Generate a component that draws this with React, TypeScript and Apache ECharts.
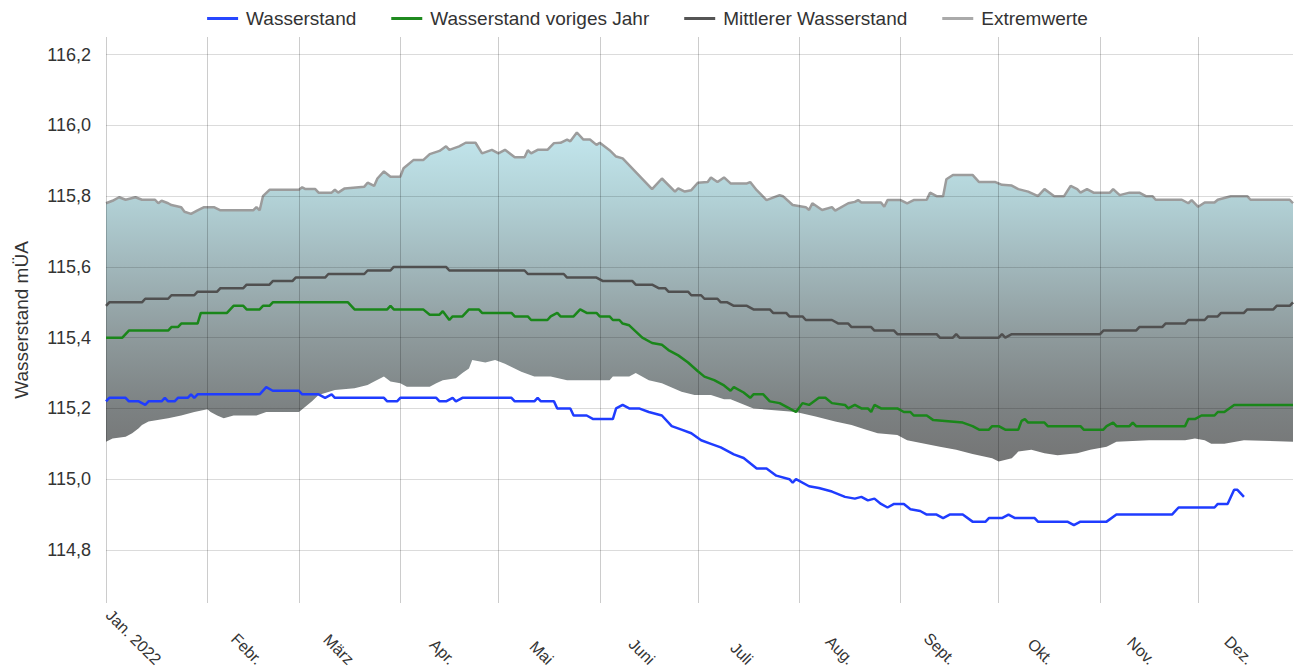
import React, { useEffect, useRef } from "react";
import * as echarts from "echarts";

// Tag im Jahr 2022 (0 = 1. Jan.)
const monatsLabels = ["Jan. 2022", "Febr.", "März", "Apr.", "Mai", "Juni", "Juli", "Aug.", "Sept.", "Okt.", "Nov.", "Dez."];
const monatsAnfang = [0, 31, 59, 90, 120, 151, 181, 212, 243, 273, 304, 334];
const yTicks = [114.8, 115.0, 115.2, 115.4, 115.6, 115.8, 116.0, 116.2];
const legendNames = ["Wasserstand", "Wasserstand voriges Jahr", "Mittlerer Wasserstand", "Extremwerte"];

// [Tag, Wert in m ü. A.]
const wasserstand: [number, number][] = [
  [0, 115.22], [1, 115.23], [6, 115.23], [7, 115.22], [10, 115.22], [12, 115.21], [13, 115.22], [17, 115.22],
  [18, 115.23], [19, 115.22], [21, 115.22], [22, 115.23], [25, 115.23], [26, 115.24], [27, 115.23], [28, 115.24],
  [47, 115.24], [49, 115.26], [51, 115.25], [59, 115.25], [60, 115.24], [65, 115.24], [67, 115.23], [69, 115.24],
  [70, 115.23], [85, 115.23], [86, 115.22], [89, 115.22], [90, 115.23], [101, 115.23], [102, 115.22], [104, 115.22],
  [106, 115.23], [107, 115.22], [109, 115.23], [124, 115.23], [125, 115.22], [131, 115.22], [132, 115.23], [133, 115.22],
  [137, 115.22], [138, 115.2], [142, 115.2], [143, 115.18], [147, 115.18], [149, 115.17], [155, 115.17], [156, 115.2],
  [158, 115.21], [160, 115.2], [163, 115.2], [166, 115.19], [170, 115.18], [173, 115.15], [176, 115.14], [179, 115.13],
  [182, 115.11], [185, 115.1], [188, 115.09], [192, 115.07], [195, 115.06], [199, 115.03], [202, 115.03], [205, 115.01],
  [209, 115.0], [210, 114.99], [211, 115.0], [215, 114.98], [218, 114.975], [222, 114.965], [226, 114.95], [229, 114.945],
  [231, 114.95], [233, 114.94], [235, 114.945], [237, 114.93], [239, 114.92], [241, 114.93], [244, 114.93], [246, 114.915],
  [249, 114.91], [251, 114.9], [254, 114.9], [256, 114.89], [258, 114.9], [262, 114.9], [265, 114.88], [269, 114.88],
  [270, 114.89], [274, 114.89], [276, 114.9], [278, 114.89], [284, 114.89], [285, 114.88], [294, 114.88], [296, 114.87],
  [298, 114.88], [306, 114.88], [309, 114.9], [326, 114.9], [328, 114.92], [339, 114.92], [340, 114.93], [343, 114.93],
  [345, 114.97], [346, 114.97], [348, 114.95],
];

const wasserstandVorjahr: [number, number][] = [
  [0, 115.4], [5, 115.4], [6, 115.41], [7, 115.42], [19, 115.42], [20, 115.43], [22, 115.43], [23, 115.44],
  [28, 115.44], [29, 115.47], [37, 115.47], [38, 115.48], [39, 115.49], [42, 115.49], [43, 115.48], [47, 115.48],
  [48, 115.49], [50, 115.49], [51, 115.5], [74, 115.5], [76, 115.48], [86, 115.48], [87, 115.49], [88, 115.48],
  [97, 115.48], [99, 115.465], [102, 115.465], [103, 115.475], [105, 115.45], [106, 115.46], [109, 115.46], [111, 115.48],
  [114, 115.48], [115, 115.47], [124, 115.47], [125, 115.46], [129, 115.46], [130, 115.45], [135, 115.45], [136, 115.46],
  [138, 115.47], [139, 115.46], [143, 115.46], [145, 115.48], [147, 115.47], [150, 115.47], [151, 115.46], [154, 115.46],
  [155, 115.45], [157, 115.45], [158, 115.44], [160, 115.435], [164, 115.4], [167, 115.385], [170, 115.38], [172, 115.365],
  [175, 115.35], [178, 115.33], [181, 115.305], [183, 115.29], [186, 115.28], [189, 115.265], [191, 115.25], [192, 115.26],
  [195, 115.245], [197, 115.23], [198, 115.24], [201, 115.24], [203, 115.22], [206, 115.215], [209, 115.2], [211, 115.19],
  [213, 115.215], [215, 115.21], [218, 115.23], [220, 115.23], [222, 115.215], [226, 115.21], [227, 115.2], [229, 115.21],
  [231, 115.2], [233, 115.2], [234, 115.19], [235, 115.21], [237, 115.2], [242, 115.2], [244, 115.19], [246, 115.19],
  [247, 115.18], [251, 115.18], [253, 115.167], [262, 115.16], [265, 115.15], [267, 115.14], [270, 115.14], [271, 115.15],
  [273, 115.15], [275, 115.14], [279, 115.14], [280, 115.165], [281, 115.17], [282, 115.16], [287, 115.16], [288, 115.15],
  [298, 115.15], [299, 115.14], [305, 115.14], [306, 115.15], [308, 115.16], [309, 115.15], [313, 115.15], [314, 115.16],
  [315, 115.15], [330, 115.15], [331, 115.17], [333, 115.17], [335, 115.18], [339, 115.18], [340, 115.19], [342, 115.19],
  [345, 115.21], [363, 115.21],
];

const mittlererWasserstand: [number, number][] = [
  [0, 115.49], [1, 115.5], [11, 115.5], [12, 115.51], [19, 115.51], [20, 115.52], [27, 115.52], [28, 115.53],
  [34, 115.53], [35, 115.54], [42, 115.54], [43, 115.55], [50, 115.55], [51, 115.56], [57, 115.56], [58, 115.57],
  [67, 115.57], [68, 115.58], [79, 115.58], [80, 115.59], [87, 115.59], [88, 115.6], [104, 115.6], [105, 115.59],
  [128, 115.59], [129, 115.58], [140, 115.58], [141, 115.57], [150, 115.57], [152, 115.56], [161, 115.56], [162, 115.55],
  [167, 115.55], [169, 115.54], [171, 115.54], [172, 115.53], [178, 115.53], [179, 115.52], [182, 115.52], [183, 115.51],
  [187, 115.51], [188, 115.5], [190, 115.5], [192, 115.49], [196, 115.49], [198, 115.48], [203, 115.48], [204, 115.47],
  [208, 115.47], [209, 115.46], [213, 115.46], [214, 115.45], [222, 115.45], [224, 115.44], [227, 115.44], [228, 115.43],
  [234, 115.43], [235, 115.42], [241, 115.42], [242, 115.41], [254, 115.41], [255, 115.4], [259, 115.4], [260, 115.41],
  [261, 115.4], [273, 115.4], [274, 115.41], [275, 115.4], [277, 115.41], [304, 115.41], [305, 115.42], [315, 115.42],
  [316, 115.43], [323, 115.43], [324, 115.44], [330, 115.44], [331, 115.45], [336, 115.45], [337, 115.46], [340, 115.46],
  [341, 115.47], [348, 115.47], [349, 115.48], [357, 115.48], [358, 115.49], [362, 115.49], [363, 115.5],
];

const extremwerteMax: [number, number][] = [
  [0, 115.78], [2, 115.787], [4, 115.797], [6, 115.79], [9, 115.797], [11, 115.79], [15, 115.79], [16, 115.78],
  [17, 115.787], [19, 115.78], [20, 115.775], [23, 115.769], [24, 115.756], [26, 115.75], [28, 115.76], [30, 115.769],
  [33, 115.769], [35, 115.76], [45, 115.76], [46, 115.769], [47, 115.76], [48, 115.8], [50, 115.818], [59, 115.818],
  [60, 115.825], [61, 115.82], [64, 115.82], [65, 115.81], [69, 115.81], [70, 115.818], [71, 115.81], [73, 115.822],
  [79, 115.827], [80, 115.838], [82, 115.829], [83, 115.85], [85, 115.87], [87, 115.855], [90, 115.855], [91, 115.879],
  [94, 115.902], [97, 115.902], [99, 115.919], [102, 115.928], [104, 115.941], [105, 115.931], [108, 115.941], [110, 115.951],
  [113, 115.951], [115, 115.921], [118, 115.931], [120, 115.921], [122, 115.931], [125, 115.91], [128, 115.91], [129, 115.93],
  [130, 115.921], [132, 115.931], [135, 115.931], [137, 115.95], [139, 115.951], [141, 115.96], [142, 115.955], [144, 115.98],
  [146, 115.96], [148, 115.96], [150, 115.945], [151, 115.951], [154, 115.93], [156, 115.912], [158, 115.907], [167, 115.82],
  [170, 115.85], [174, 115.813], [175, 115.822], [177, 115.813], [179, 115.817], [181, 115.838], [184, 115.84], [185, 115.853],
  [187, 115.84], [189, 115.853], [191, 115.836], [196, 115.836], [197, 115.84], [199, 115.817], [202, 115.789], [206, 115.803],
  [207, 115.8], [210, 115.775], [214, 115.769], [215, 115.761], [216, 115.78], [219, 115.761], [222, 115.769], [223, 115.759],
  [227, 115.78], [229, 115.784], [230, 115.789], [231, 115.782], [237, 115.782], [238, 115.77], [239, 115.789], [243, 115.789],
  [245, 115.78], [247, 115.789], [251, 115.79], [252, 115.81], [254, 115.8], [256, 115.8], [257, 115.848], [259, 115.86],
  [265, 115.86], [267, 115.84], [272, 115.84], [274, 115.832], [277, 115.83], [279, 115.82], [282, 115.813], [285, 115.8],
  [287, 115.82], [290, 115.8], [293, 115.8], [295, 115.829], [297, 115.82], [298, 115.81], [300, 115.82], [302, 115.81],
  [307, 115.81], [308, 115.82], [310, 115.803], [313, 115.81], [316, 115.81], [318, 115.8], [320, 115.8], [321, 115.79],
  [329, 115.79], [331, 115.78], [332, 115.789], [334, 115.77], [336, 115.782], [339, 115.782], [340, 115.79], [344, 115.8],
  [349, 115.8], [350, 115.79], [362, 115.79], [363, 115.78],
];

const extremwerteMin: [number, number][] = [
  [0, 115.106], [2, 115.115], [6, 115.12], [8, 115.13], [10, 115.144], [11, 115.153], [13, 115.163], [19, 115.172],
  [23, 115.18], [27, 115.19], [31, 115.198], [32, 115.19], [34, 115.18], [36, 115.172], [39, 115.18], [46, 115.18],
  [49, 115.19], [59, 115.19], [63, 115.22], [65, 115.238], [70, 115.252], [76, 115.257], [80, 115.266], [82, 115.276],
  [85, 115.29], [87, 115.276], [90, 115.271], [92, 115.261], [99, 115.261], [101, 115.271], [103, 115.28], [107, 115.285],
  [109, 115.3], [111, 115.313], [112, 115.337], [116, 115.33], [119, 115.337], [122, 115.326], [127, 115.304], [131, 115.29],
  [136, 115.29], [141, 115.28], [154, 115.28], [155, 115.29], [160, 115.29], [162, 115.3], [166, 115.28], [170, 115.271],
  [176, 115.247], [180, 115.238], [185, 115.238], [189, 115.226], [191, 115.226], [198, 115.2], [211, 115.19], [217, 115.177],
  [223, 115.163], [228, 115.153], [232, 115.141], [236, 115.13], [242, 115.125], [245, 115.11], [250, 115.101], [255, 115.092],
  [260, 115.083], [265, 115.071], [271, 115.059], [273, 115.05], [277, 115.059], [279, 115.078], [283, 115.083], [287, 115.073],
  [291, 115.068], [297, 115.073], [301, 115.083], [306, 115.092], [309, 115.106], [319, 115.11], [330, 115.11], [333, 115.115],
  [336, 115.11], [338, 115.1], [342, 115.1], [348, 115.11], [363, 115.106],
];

const LABEL_SHIFT_DAYS = 16;

export default function App() {
  const ref = useRef<HTMLDivElement>(null);

  useEffect(() => {
    if (!ref.current) return;
    const chart = echarts.init(ref.current, undefined, { renderer: "svg" });
    const font = "'Liberation Sans', Arial, sans-serif";
    const labelPositions = monatsAnfang.map((d) => d + LABEL_SHIFT_DAYS);

    chart.setOption({
      animation: false,
      backgroundColor: "#ffffff",
      textStyle: { fontFamily: font },
      legend: {
        data: legendNames,
        top: 4,
        left: "center",
        icon: "rect",
        itemWidth: 31,
        itemHeight: 3,
        itemGap: 35,
        textStyle: { fontSize: 19, color: "#333", fontFamily: font, padding: [0, 0, 0, 3] },
      },
      grid: { left: 106, right: 2, top: 37, bottom: 68, containLabel: false, outerBoundsMode: "none" },
      xAxis: {
        type: "value",
        min: 0,
        max: 363,
        z: 3,
        axisLine: { show: false },
        axisTick: { show: false, customValues: monatsAnfang },
        splitLine: { show: true, lineStyle: { color: "rgba(0,0,0,0.2)", width: 1 } },
        axisLabel: {
          customValues: labelPositions,
          rotate: -45,
          align: "right",
          margin: 59,
          fontSize: 16,
          color: "#333",
          fontFamily: font,
          formatter: (v: number) => monatsLabels[labelPositions.indexOf(v)] ?? "",
        },
      },
      yAxis: {
        type: "value",
        min: 114.65,
        max: 116.25,
        z: 3,
        name: "Wasserstand mÜA",
        nameLocation: "middle",
        nameRotate: 90,
        nameGap: 75,
        nameTextStyle: { fontSize: 19, color: "#333", fontFamily: font },
        axisLine: { show: false },
        axisTick: { show: false, customValues: yTicks },
        splitLine: { show: true, lineStyle: { color: "rgba(0,0,0,0.14)", width: 1 } },
        axisLabel: {
          customValues: yTicks,
          margin: 15,
          fontSize: 18,
          color: "#333",
          fontFamily: font,
          formatter: (v: number) => v.toFixed(1).replace(".", ","),
        },
      },
      series: [
        {
          name: "Extremwerte",
          type: "line",
          data: extremwerteMax,
          symbol: "none",
          z: 1,
          color: "#aaaaaa",
          lineStyle: { color: "#9c9c9c", width: 2.5 },
          areaStyle: {
            origin: "start",
            opacity: 1,
            color: new echarts.graphic.LinearGradient(0, 130, 0, 470, [
              { offset: 0, color: "#c3e7ee" },
              { offset: 0.19, color: "#b3d3d8" },
              { offset: 0.4, color: "#a1b7bb" },
              { offset: 0.61, color: "#8e9a9c" },
              { offset: 0.82, color: "#7c8182" },
              { offset: 1, color: "#737373" },
            ], true),
          },
        },
        {
          name: "Extremwerte Minimum",
          type: "line",
          data: extremwerteMin,
          symbol: "none",
          z: 1,
          lineStyle: { width: 0, opacity: 0 },
          areaStyle: { origin: "start", color: "#ffffff", opacity: 1 },
        },
        {
          name: "Mittlerer Wasserstand",
          type: "line",
          data: mittlererWasserstand,
          symbol: "none",
          z: 5,
          color: "#555555",
          lineStyle: { color: "#505050", width: 2.5 },
        },
        {
          name: "Wasserstand voriges Jahr",
          type: "line",
          data: wasserstandVorjahr,
          symbol: "none",
          z: 5,
          color: "#1f8a1f",
          lineStyle: { color: "#1a861a", width: 2.5 },
        },
        {
          name: "Wasserstand",
          type: "line",
          data: wasserstand,
          symbol: "none",
          z: 6,
          color: "#2747ff",
          lineStyle: { color: "#1f3cff", width: 2.5 },
        },
      ],
    });

    return () => chart.dispose();
  }, []);

  return <div ref={ref} style={{ width: 1295, height: 671, position: "absolute", left: 0, top: 0 }} />;
}
